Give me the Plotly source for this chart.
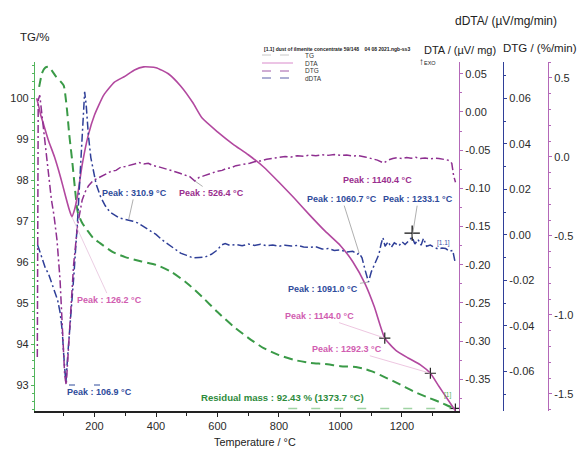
import numpy as np
import plotly.graph_objects as go

# ---------------- measured curves ----------------
tg_temp = [20, 30, 40, 50, 62, 75, 90, 100, 110, 118, 127, 137, 146, 160, 176, 195,
           218, 260, 300, 350, 400, 450, 500, 550, 600, 650, 700, 750, 800, 850,
           900, 950, 1000, 1050, 1080, 1100, 1130, 1170, 1210, 1250, 1290, 1330,
           1360, 1373.7]
tg_mass = [100.27, 100.62, 100.74, 100.76, 100.66, 100.52, 100.4, 100.3, 99.75, 99.1,
           98.5, 97.75, 97.2, 96.95, 96.78, 96.59, 96.46, 96.24, 96.12, 96.02, 95.93,
           95.76, 95.49, 95.15, 94.78, 94.44, 94.15, 93.9, 93.73, 93.61, 93.54, 93.51,
           93.46, 93.44, 93.39, 93.34, 93.24, 93.1, 92.95, 92.8, 92.68, 92.56, 92.46,
           92.43]

dta_temp = [12, 20, 25, 35, 50, 70, 90, 105, 118, 126.2, 135, 145, 160, 180, 200,
            230, 265, 300, 330, 360, 400, 440, 480, 520, 550, 600, 650, 700, 750,
            800, 850, 900, 950, 1000, 1040, 1080, 1110, 1144.0, 1180, 1220, 1260,
            1292.3, 1320, 1350, 1373.7]
dta_val = [0.018, 0.005, -0.004, -0.017, -0.037, -0.059, -0.086, -0.109, -0.128,
           -0.137, -0.128, -0.109, -0.069, -0.030, -0.004, 0.022, 0.039, 0.047, 0.055,
           0.059, 0.058, 0.050, 0.034, 0.012, -0.008, -0.026, -0.042, -0.056, -0.072,
           -0.092, -0.113, -0.135, -0.156, -0.175, -0.196, -0.225, -0.255, -0.296,
           -0.312, -0.322, -0.331, -0.342, -0.359, -0.377, -0.391]

dtg_temp = [14, 17, 22, 30, 40, 50, 60, 68, 78, 88, 96, 103, 108, 114, 122, 132, 145,
            160, 170, 180, 195, 210, 225, 240, 255, 270, 285, 300, 315, 330, 345, 360,
            375, 390, 405, 420, 435, 450, 465, 480, 495, 510, 526.4, 540, 555, 570,
            585, 600, 615, 630, 645, 660, 675, 690, 705, 720, 740, 760, 780, 800, 820,
            840, 860, 880, 900, 920, 940, 960, 980, 1000, 1020, 1040, 1060, 1080,
            1100, 1120, 1140.4, 1155, 1170, 1185, 1200, 1215, 1230, 1245, 1260, 1275,
            1290, 1305, 1320, 1335, 1350, 1362, 1368, 1374]
dtg_val = [-1.266, 0.361, 0.39, 0.253, 0.044, -0.114, -0.272, -0.367, -0.525, -0.779,
           -1.095, -1.38, -1.443, -1.253, -0.968, -0.684, -0.43, -0.272, -0.22, -0.184,
           -0.15, -0.135, -0.12, -0.11, -0.09, -0.085, -0.065, -0.06, -0.05, -0.045,
           -0.035, -0.045, -0.04, -0.055, -0.06, -0.07, -0.075, -0.09, -0.095, -0.105,
           -0.115, -0.125, -0.152, -0.13, -0.12, -0.11, -0.1, -0.09, -0.085, -0.072,
           -0.068, -0.055, -0.05, -0.045, -0.04, -0.03, -0.025, -0.015, -0.008, -0.003,
           0.003, 0.0, 0.008, 0.005, 0.012, 0.008, 0.014, 0.01, 0.015, 0.01, 0.013,
           0.006, 0.008, 0.0, -0.008, -0.02, -0.038, -0.02, -0.01, -0.005, -0.01,
           -0.003, -0.008, -0.002, -0.01, -0.006, -0.012, -0.008, -0.01, -0.015, -0.02,
           -0.04, -0.12, -0.16]

ddta_temp = [15, 25, 40, 50, 60, 70, 80, 88, 95, 100, 106.9, 113, 122, 133, 145, 155,
             163, 168, 173, 180, 188, 195, 205, 220, 235, 250, 265, 280, 295, 310.9,
             325, 340, 355, 370, 385, 400, 420, 440, 460, 480, 500, 520, 540, 560, 580,
             600, 612, 625, 640, 660, 680, 700, 720, 740, 760, 780, 800, 820, 840, 860,
             880, 900, 920, 940, 960, 980, 1000, 1020, 1040, 1055, 1060.7, 1070, 1080,
             1091.0, 1100, 1115, 1125, 1132, 1138, 1145, 1155, 1165, 1175, 1190, 1200,
             1210, 1222, 1233.1, 1242, 1252, 1262, 1270, 1280, 1292, 1305, 1318, 1330,
             1342, 1355, 1365, 1372]
ddta_val = [-0.0044, -0.0088, -0.0145, -0.017, -0.0207, -0.024, -0.0286, -0.034, -0.042,
            -0.0528, -0.0651, -0.0528, -0.0374, -0.0176, 0.0066, 0.033, 0.055, 0.0629,
            0.0571, 0.044, 0.034, 0.0286, 0.0225, 0.0167, 0.0128, 0.0101, 0.0088,
            0.0075, 0.007, 0.0066, 0.006, 0.0053, 0.004, 0.0025, 0.0015, 0.0002,
            -0.0022, -0.004, -0.0062, -0.008, -0.009, -0.0101, -0.0099, -0.0097,
            -0.0085, -0.0066, -0.0045, -0.0038, -0.0046, -0.0042, -0.0048, -0.004,
            -0.0046, -0.0041, -0.0048, -0.0044, -0.005, -0.0045, -0.0049, -0.0046,
            -0.0053, -0.0055, -0.0052, -0.0062, -0.006, -0.0068, -0.0066, -0.0075,
            -0.0072, -0.0084, -0.008, -0.0101, -0.0154, -0.0207, -0.0163, -0.0119,
            -0.0085, -0.004, -0.0012, -0.005, -0.003, -0.0055, -0.0035, -0.0048,
            -0.003, -0.0042, -0.0025, -0.001, -0.004, -0.002, -0.0045, -0.0015, -0.005,
            -0.0045, -0.0055, -0.0062, -0.0058, -0.006, -0.0072, -0.0068, -0.0115]

# peak temperatures found by the evaluation software
dta_peaks = [126.2, 1144.0, 1292.3]
ddta_peaks = [106.9, 310.9, 1060.7, 1091.0, 1233.1]
dtg_peaks = [526.4, 1140.4]
residual_temp = 1373.7
residual_mass = 92.43

# axis ticks
x_ticks = [200, 400, 600, 800, 1000, 1200]
tg_ticks = [93, 94, 95, 96, 97, 98, 99, 100]
dta_ticks = [0.05, 0.00, -0.05, -0.10, -0.15, -0.20, -0.25, -0.30, -0.35]
ddta_ticks = [0.06, 0.04, 0.02, 0.00, -0.02, -0.04, -0.06]
dtg_ticks = [0.5, 0.0, -0.5, -1.0, -1.5]

# ---------------- styling ----------------
C_TG = "#3a9a47"
C_TG_AX = "#52b55c"
C_DTA = "#b2489f"
C_DTG = "#8e2f90"
C_DDTA = "#2f3f98"
C_AX_PINK = "#b468b8"
C_PINK_TXT = "#d15db0"
C_PURPLE_TXT = "#9a2e8e"
C_BLUE_TXT = "#2e4b9b"
FONT = "Liberation Sans"

W, H = 579, 452
L, R, T, B = 35, 0, 62, 41
PW = W - L - R
PH = H - T - B


def px_x(p):
    return (p - L) / PW


def px_y(p):
    return (H - B - p) / PH


fig = go.Figure()

fig.add_trace(go.Scatter(x=tg_temp, y=tg_mass, mode="lines", yaxis="y",
                         line=dict(color=C_TG, width=2, dash="9px,5px", shape="spline",
                                   smoothing=0.6)))
fig.add_trace(go.Scatter(x=[830, residual_temp], y=[residual_mass, residual_mass],
                         mode="lines", yaxis="y",
                         line=dict(color="#9fd3a3", width=1.5, dash="9px,14px")))
fig.add_trace(go.Scatter(x=dta_temp, y=dta_val, mode="lines", yaxis="y2",
                         line=dict(color=C_DTA, width=1.6, shape="spline", smoothing=0.5)))
fig.add_trace(go.Scatter(x=dtg_temp, y=dtg_val, mode="lines", yaxis="y4",
                         line=dict(color=C_DTG, width=1.5, dash="8px,3px,2px,3px")))
fig.add_trace(go.Scatter(x=ddta_temp, y=ddta_val, mode="lines", yaxis="y3",
                         line=dict(color=C_DDTA, width=1.5, dash="8px,3px,2px,3px")))

# peak / end markers
dta_mark_t = dta_peaks[1:]
fig.add_trace(go.Scatter(x=dta_mark_t, y=np.interp(dta_mark_t, dta_temp, dta_val),
                         mode="markers", yaxis="y2",
                         marker=dict(symbol="cross-thin", size=8, color="#222",
                                     line=dict(width=1.2, color="#222"))))
fig.add_trace(go.Scatter(x=[ddta_peaks[4]], y=[np.interp(ddta_peaks[4], ddta_temp, ddta_val) + 0.0018],
                         mode="markers", yaxis="y3",
                         marker=dict(symbol="cross-thin", size=11, color="#111",
                                     line=dict(width=1.3, color="#111"))))
fig.add_trace(go.Scatter(x=[residual_temp], y=[residual_mass], mode="markers", yaxis="y",
                         marker=dict(symbol="cross-thin", size=7, color="#222",
                                     line=dict(width=1.2, color="#222"))))

tickfont = dict(family=FONT, size=11, color="#2a2a2a")


def fmt(v, d):
    return f"{v:.{d}f}".replace("\u2212", "-")


fig.update_layout(
    width=W, height=H, margin=dict(l=L, r=R, t=T, b=B),
    paper_bgcolor="white", plot_bgcolor="white", showlegend=False,
    xaxis=dict(domain=[0, (459 - L) / PW], range=[6.5, 1385.4], showgrid=False,
               zeroline=False, showline=True, linecolor="#222", linewidth=1.5,
               ticks="outside", ticklen=4, tickcolor="#222", tickvals=x_ticks,
               tickfont=tickfont,
               minor=dict(dtick=100, tick0=0, ticks="outside", ticklen=3, tickcolor="#222")),
    yaxis=dict(range=[92.366, 100.878], showgrid=False, zeroline=False, showline=True,
               linecolor=C_TG_AX, linewidth=1.3, ticks="outside", ticklen=3,
               tickcolor=C_TG_AX, tickvals=tg_ticks, tickfont=tickfont,
               minor=dict(dtick=0.2, tick0=0, ticks="outside", ticklen=2, tickcolor=C_TG_AX)),
    yaxis2=dict(overlaying="y", side="right", anchor="x", range=[-0.3914, 0.0654],
                showgrid=False, zeroline=False, showline=True, linecolor=C_AX_PINK,
                linewidth=1.3, ticks="outside", ticklen=3, tickcolor=C_AX_PINK,
                tickvals=dta_ticks, ticktext=[fmt(v, 2) for v in dta_ticks],
                tickfont=tickfont,
                minor=dict(dtick=0.025, tick0=0, ticks="outside", ticklen=2,
                           tickcolor=C_AX_PINK)),
    yaxis3=dict(overlaying="y", side="right", anchor="free", position=(503 - L) / PW,
                range=[-0.0774, 0.0760], showgrid=False, zeroline=False, showline=True,
                linecolor=C_DDTA, linewidth=1.3, ticks="outside", ticklen=3,
                tickcolor=C_DDTA, tickvals=ddta_ticks,
                ticktext=[fmt(v, 2) for v in ddta_ticks], tickfont=tickfont,
                minor=dict(dtick=0.01, tick0=0, ticks="outside", ticklen=2,
                           tickcolor=C_DDTA)),
    yaxis4=dict(overlaying="y", side="right", anchor="free", position=(548 - L) / PW,
                range=[-1.608, 0.601], showgrid=False, zeroline=False, showline=True,
                linecolor=C_AX_PINK, linewidth=1.3, ticks="outside", ticklen=3,
                tickcolor=C_AX_PINK, tickvals=dtg_ticks,
                ticktext=[fmt(v, 1) for v in dtg_ticks], tickfont=tickfont,
                minor=dict(dtick=0.1, tick0=0, ticks="outside", ticklen=2,
                           tickcolor=C_AX_PINK)),
)

ann = []


def paper_text(text, cx, cy, size, color="#222", family=FONT, xanchor="center"):
    ann.append(dict(text=text, x=px_x(cx), y=px_y(cy), xref="paper", yref="paper",
                    showarrow=False, xanchor=xanchor, yanchor="middle",
                    font=dict(family=family, size=size, color=color)))


# axis titles
paper_text("TG/%", 34, 37, 11.5)
paper_text("dDTA/ (\u00b5V/mg/min)", 506, 21, 12)
paper_text("DTA / (\u00b5V/ mg)", 460, 50, 11)
paper_text("DTG / (%/min)", 540, 48, 11.5)
paper_text("Temperature / \u00b0C", 255, 442, 10.8)
paper_text("\u2191", 421, 61, 10)
paper_text("EXO", 430, 63, 5.5)

# legend block
paper_text("<b>[1.1] dust of ilmenite concentrate 59/148    04 08 2021.ngb-ss3</b>",
           262, 49, 5, xanchor="left")
legend_rows = [("TG", 55, "#c8c8c8", "dash"), ("DTA", 63, "#d98acb", "solid"),
               ("DTG", 71, "#a05aa8", "dash"), ("dDTA", 78, "#5a5fa8", "dash")]
shapes = []
for name, yy, col, dsh in legend_rows:
    shapes.append(dict(type="line", xref="paper", yref="paper", x0=px_x(262), x1=px_x(293),
                       y0=px_y(yy), y1=px_y(yy), line=dict(color=col, width=1, dash=dsh)))
    paper_text(name, 303, yy, 6.5, color="#333", xanchor="left")

# small bars drawn above the low-temperature dDTA peak label
for x0, x1 in [(69, 75), (94, 100)]:
    shapes.append(dict(type="line", xref="paper", yref="paper", x0=px_x(x0), x1=px_x(x1),
                       y0=px_y(385), y1=px_y(385), line=dict(color=C_BLUE_TXT, width=1)))


def peak_label(text, t, series_t, series_v, yref, ax, ay, color, line_color=None, dy=0.0):
    yv = float(np.interp(t, series_t, series_v)) + dy
    ann.append(dict(text=f"<b>{text}</b>", x=t, y=yv, xref="x", yref=yref,
                    showarrow=True, arrowhead=0, arrowwidth=0.8,
                    arrowcolor=line_color if line_color else "rgba(0,0,0,0)",
                    ax=ax, ay=ay, font=dict(family=FONT, size=9, color=color)))


peak_label(f"Peak : {dta_peaks[0]:.1f} \u00b0C", dta_peaks[0], dta_temp, dta_val, "y2",
           38, 83, C_PINK_TXT, "#e6c2dc")
peak_label(f"Peak : {dta_peaks[1]:.1f} \u00b0C", dta_peaks[1], dta_temp, dta_val, "y2",
           -65, -22, C_PINK_TXT, "#e8b8d8")
peak_label(f"Peak : {dta_peaks[2]:.1f} \u00b0C", dta_peaks[2], dta_temp, dta_val, "y2",
           -83, -24, C_PINK_TXT, "#e8b8d8")
peak_label(f"Peak : {ddta_peaks[0]:.1f} \u00b0C", ddta_peaks[0], ddta_temp, ddta_val, "y3",
           34, 9, C_BLUE_TXT)
peak_label(f"Peak : {ddta_peaks[1]:.1f} \u00b0C", ddta_peaks[1], ddta_temp, ddta_val, "y3",
           6, -27, C_BLUE_TXT, "#9a9a9a")
peak_label(f"Peak : {ddta_peaks[2]:.1f} \u00b0C", ddta_peaks[2], ddta_temp, ddta_val, "y3",
           -17, -54, C_BLUE_TXT, "#9a9a9a")
peak_label(f"Peak : {ddta_peaks[3]:.1f} \u00b0C", ddta_peaks[3], ddta_temp, ddta_val, "y3",
           -45, 7, C_BLUE_TXT, "#9a9a9a")
peak_label(f"Peak : {ddta_peaks[4]:.1f} \u00b0C", ddta_peaks[4], ddta_temp, ddta_val, "y3",
           6, -38, C_BLUE_TXT, "#9a9a9a")
peak_label(f"Peak : {dtg_peaks[0]:.1f} \u00b0C", dtg_peaks[0], dtg_temp, dtg_val, "y4",
           17, 12, C_PURPLE_TXT, "#9a9a9a")
peak_label(f"Peak : {dtg_peaks[1]:.1f} \u00b0C", dtg_peaks[1], dtg_temp, dtg_val, "y4",
           -6, 17, C_PURPLE_TXT)

# residual mass note
paper_text(f"<b>Residual mass : {residual_mass:.2f} % ({residual_temp:.1f} \u00b0C)</b>",
           282, 397, 9.6, color="#2e8b3c")
paper_text("[1]", 447, 395, 6.5, color="#4caf50")
paper_text("[1.1]", 443, 243, 6.5, color="#3a4ea8")

fig.update_layout(annotations=ann, shapes=shapes)
fig.write_html("out.html")
